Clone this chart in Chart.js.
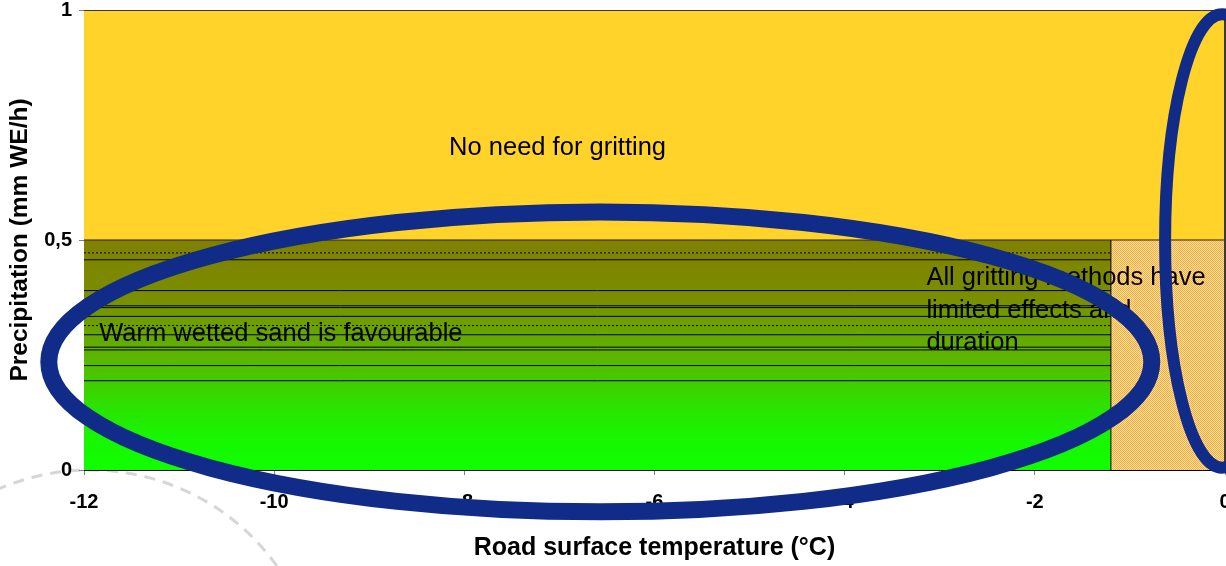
<!DOCTYPE html>
<html>
<head>
<meta charset="utf-8">
<script src="https://cdn.jsdelivr.net/npm/chart.js@4.4.0/dist/chart.umd.min.js"></script>
<style>
  html, body { margin: 0; padding: 0; background: #fff; overflow: hidden; }
  .chart-container { position: relative; width: 1226px; height: 566px; }
</style>
</head>
<body>
<div class="chart-container"><canvas id="chart"></canvas></div>
<script>
// ticks
const xTickValues = [-12, -10, -8, -6, -4, -2, 0];
const xTickLabels = ['-12', '-10', '-8', '-6', '-4', '-2', '0'];
const yTickValues = [0, 0.5, 1];
const yTickLabels = ['0', '0,5', '1'];

// zones (road temp in degC, precipitation in mm WE/h)
const tempMin = -12;
const tempMax = 0;
const sandLimitTemp = -1.2;
const precipLimit = 0.5;
const precipMax = 1;

// horizontal lines inside the sand zone
const solidLevels = [0.457, 0.390, 0.357, 0.353, 0.334, 0.294, 0.267, 0.261, 0.227, 0.194];
const dottedLevels = [0.472, 0.314];

// zone texts and where they sit (data units, left / middle of first line)
const zoneTexts = [
  ['No need for gritting'],
  ['Warm wetted sand is favourable'],
  ['All gritting methods have', 'limited effects and', 'duration']
];
const textX = [-8.16, -11.84, -3.14];
const textY = [0.700, 0.296, 0.417];

// highlight ellipses (data units)
const ellipseCx = [-6.57, -0.03];
const ellipseCy = [0.235, 0.498];
const ellipseRx = [5.80, 0.60];
const ellipseRy = [0.326, 0.493];

const FONT = '"Liberation Sans", Arial, sans-serif';

const seg = (x1, y1, x2, y2) => [{ x: x1, y: y1 }, { x: x2, y: y2 }];

const makeCheckerPattern = () => {
  const p = document.createElement('canvas');
  p.width = 2; p.height = 2;
  const pc = p.getContext('2d');
  pc.fillStyle = '#ffe2a6';
  pc.fillRect(0, 0, 2, 2);
  pc.fillStyle = '#f9ab3a';
  pc.fillRect(0, 0, 1, 1);
  pc.fillRect(1, 1, 1, 1);
  return pc.createPattern(p, 'repeat');
};

const sandGradient = (context) => {
  const chart = context.chart;
  if (!chart.chartArea) return '#808000';
  const top = chart.scales.y.getPixelForValue(precipLimit);
  const bottom = chart.scales.y.getPixelForValue(0);
  const g = chart.ctx.createLinearGradient(0, top, 0, bottom);
  g.addColorStop(0, '#808000');
  g.addColorStop(0.25, '#7a8e00');
  g.addColorStop(0.5, '#5cb400');
  g.addColorStop(0.7, '#30de00');
  g.addColorStop(0.85, '#18f500');
  g.addColorStop(1, '#10ff00');
  return g;
};

const datasets = [];
solidLevels.forEach(v => datasets.push({
  data: seg(tempMin, v, sandLimitTemp, v),
  borderColor: '#000', borderWidth: 1, pointRadius: 0, fill: false, order: 1
}));
dottedLevels.forEach(v => datasets.push({
  data: seg(tempMin, v, sandLimitTemp, v),
  borderColor: '#000', borderWidth: 1, borderDash: [2, 2], pointRadius: 0, fill: false, order: 1
}));
datasets.push({
  data: seg(sandLimitTemp, 0, sandLimitTemp, precipLimit),
  borderColor: '#000', borderWidth: 1, pointRadius: 0, fill: false, order: 1
});
datasets.push({
  label: 'sand',
  data: seg(tempMin, precipLimit, sandLimitTemp, precipLimit),
  backgroundColor: sandGradient, borderColor: '#222', borderWidth: 1,
  pointRadius: 0, fill: 'origin', order: 5
});
datasets.push({
  label: 'limited',
  data: seg(sandLimitTemp, precipLimit, tempMax, precipLimit),
  backgroundColor: makeCheckerPattern(), borderColor: '#222', borderWidth: 1,
  pointRadius: 0, fill: 'origin', order: 5
});
datasets.push({
  label: 'none',
  data: seg(tempMin, precipMax, tempMax, precipMax),
  backgroundColor: '#ffd329', borderColor: '#3a3a3a', borderWidth: 2,
  pointRadius: 0, fill: 'origin', order: 10
});

const backdrop = {
  id: 'backdrop',
  beforeDraw(chart) {
    const c = chart.ctx;
    c.save();
    c.strokeStyle = '#d6d6d6';
    c.lineWidth = 3;
    c.setLineDash([11, 8]);
    c.beginPath();
    c.arc(90, 700, 230, Math.PI * 1.05, Math.PI * 1.81);
    c.stroke();
    c.restore();
  }
};

const zoneLabels = {
  id: 'zoneLabels',
  afterDatasetsDraw(chart) {
    const { ctx: c, scales: { x, y } } = chart;
    c.save();
    // right edge of the plot frame
    c.strokeStyle = '#3a3a3a';
    c.lineWidth = 2;
    c.beginPath();
    c.moveTo(chart.chartArea.right, chart.chartArea.top);
    c.lineTo(chart.chartArea.right, chart.chartArea.bottom);
    c.stroke();

    c.fillStyle = '#000';
    c.font = '25.5px ' + FONT;
    c.textAlign = 'left';
    c.textBaseline = 'middle';
    zoneTexts.forEach((lines, i) => {
      const px = x.getPixelForValue(textX[i]);
      const py = y.getPixelForValue(textY[i]);
      lines.forEach((t, j) => c.fillText(t, px, py + j * 32.5));
    });
    c.restore();
  },
  afterDraw(chart) {
    const { ctx: c, scales: { x, y } } = chart;
    const widths = [17, 12];
    c.save();
    c.strokeStyle = '#112b88';
    ellipseCx.forEach((cx, i) => {
      const px = x.getPixelForValue(cx);
      const py = y.getPixelForValue(ellipseCy[i]);
      const rx = x.getPixelForValue(cx + ellipseRx[i]) - px;
      const ry = py - y.getPixelForValue(ellipseCy[i] + ellipseRy[i]);
      c.lineWidth = widths[i];
      c.beginPath();
      c.ellipse(px, py, rx, ry, 0, 0, Math.PI * 2);
      c.stroke();
    });
    c.restore();
  }
};

new Chart(document.getElementById('chart').getContext('2d'), {
  type: 'line',
  data: { datasets },
  options: {
    responsive: true,
    maintainAspectRatio: false,
    animation: false,
    layout: { padding: { top: 10, right: 1, left: 0, bottom: 0 } },
    plugins: { legend: { display: false }, tooltip: { enabled: false } },
    scales: {
      x: {
        type: 'linear', min: tempMin, max: tempMax,
        afterBuildTicks: s => { s.ticks = xTickValues.map(v => ({ value: v })); },
        afterFit: s => { s.height = 96; s.paddingLeft = 0; s.paddingRight = 0; },
        ticks: {
          callback: (v, i) => xTickLabels[i],
          font: { family: FONT, size: 20, weight: 'bold' },
          color: '#000', padding: 15, maxRotation: 0, autoSkip: false
        },
        grid: { drawOnChartArea: false, drawTicks: true, tickLength: 5, color: '#808080' },
        border: { color: '#000', width: 1 },
        title: {
          display: true, text: 'Road surface temperature (°C)', color: '#000',
          font: { family: FONT, size: 25, weight: 'bold' }, padding: { top: 0, bottom: 3 }
        }
      },
      y: {
        type: 'linear', min: 0, max: precipMax,
        afterBuildTicks: s => { s.ticks = yTickValues.map(v => ({ value: v })); },
        afterFit: s => { s.width = 84; s.paddingTop = 0; s.paddingBottom = 0; },
        ticks: {
          callback: (v, i) => yTickLabels[i],
          font: { family: FONT, size: 20, weight: 'bold' },
          color: '#000', padding: 7
        },
        grid: { drawOnChartArea: false, drawTicks: true, tickLength: 5, color: '#808080' },
        border: { color: '#000', width: 1 },
        title: {
          display: true, text: 'Precipitation (mm WE/h)', color: '#000',
          font: { family: FONT, size: 24.5, weight: 'bold' }, padding: { top: 6, bottom: 0 }
        }
      }
    }
  },
  plugins: [backdrop, zoneLabels]
});
</script>
</body>
</html>
